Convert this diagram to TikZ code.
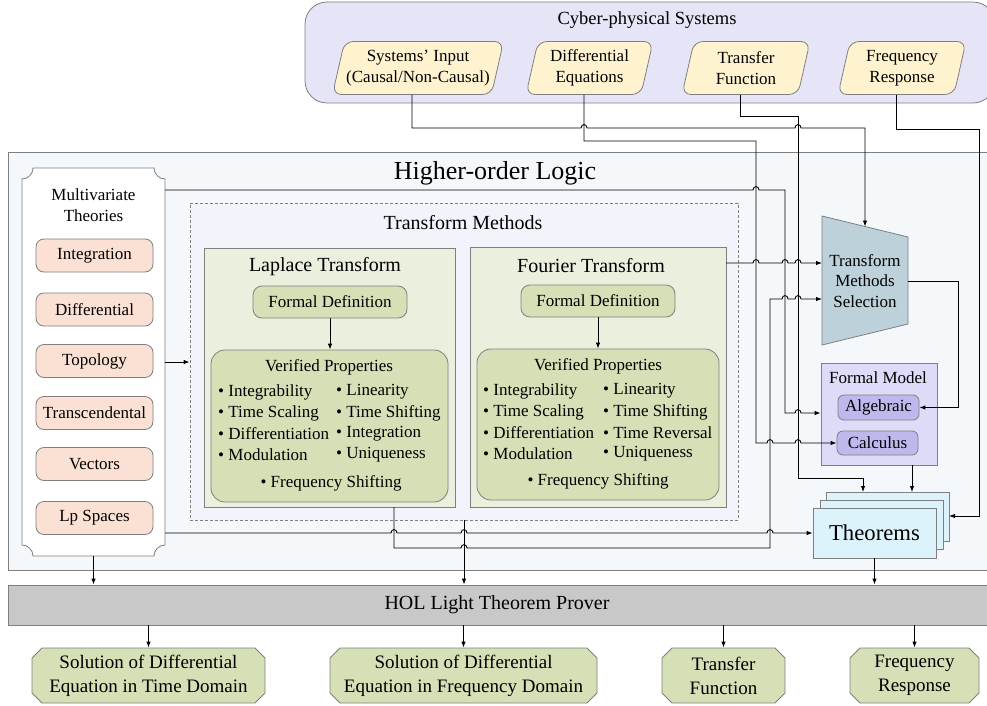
\documentclass[tikz,border=0pt]{standalone}
\usepackage{fontspec}
\setmainfont{Liberation Serif}
\usetikzlibrary{arrows.meta,calc,shapes.misc}
\definecolor{bordc}{HTML}{7F7F7F}
\definecolor{cpsfill}{HTML}{E6E5F8}
\definecolor{inputfill}{HTML}{FFF3CF}
\definecolor{holfill}{HTML}{F4F8FA}
\definecolor{peach}{HTML}{FBE1D3}
\definecolor{tmfill}{HTML}{F3F3FC}
\definecolor{oliveA}{HTML}{EBEFDD}
\definecolor{oliveB}{HTML}{D5E0B6}
\definecolor{tmsfill}{HTML}{BCD1DA}
\definecolor{fmfill}{HTML}{DDDBF8}
\definecolor{algfill}{HTML}{BDB9EC}
\definecolor{thmfill}{HTML}{DCF3FC}
\definecolor{barfill}{HTML}{C8C8C8}
\newcommand\hop[2]{-- (#1-3,#2) .. controls (#1-3,#2-4.5) and (#1+3,#2-4.5) .. (#1+3,#2)}
\newcommand\parabox[5]{%
  \path[draw=bordc, line width=0.8pt, fill=inputfill, rounded corners=9pt]
    (#2-#4/2,#3+26.5) -- (#2-#4/2+12,#3-26.5) -- (#2+#4/2,#3-26.5) -- (#2+#4/2-12,#3+26.5) -- cycle;
  \node[minimum width=#4pt, minimum height=53pt, align=center] (#1) at (#2,#3) {#5};}
\begin{document}
\begin{tikzpicture}[x=1pt,y=-1pt,
  font=\fontsize{17}{20.5}\selectfont,
  every node/.style={inner sep=0pt},
  bx/.style={draw=bordc, line width=0.8pt},
  sub/.style={bx, fill=peach, rounded corners=8pt, minimum width=117pt, minimum height=33pt},
  outb/.style={bx, fill=oliveB, chamfered rectangle, chamfered rectangle xsep=5pt, chamfered rectangle ysep=5pt,
    minimum height=55pt, align=center, font=\fontsize{19}{24}\selectfont},
  item/.style={anchor=west},
  conn/.style={line width=0.9pt, draw=black},
  arr/.style={conn, -{Latex[length=6pt,width=4.5pt]}},
]
\useasboundingbox (0,0) rectangle (987,706);

% ---------- Cyber-physical systems ----------
\node[bx, fill=cpsfill, rounded corners=22pt, minimum width=690pt, minimum height=101pt] (cps) at (650,52.5) {};
\node (cpst) at (647,20) {\fontsize{18.5}{22}\selectfont Cyber-physical Systems};
\parabox{sin}{418}{68}{171}{Systems’ Input\\(Causal/Non-Causal)}
\parabox{deq}{589.5}{68}{127}{Differential\\Equations}
\parabox{tf}{746}{68}{128}{Transfer\\Function}
\parabox{fr}{902}{68}{128}{Frequency\\Response}

% ---------- Higher-order logic ----------
\node[bx, fill=holfill, minimum width=992pt, minimum height=418pt] (hol) at (504,361) {};
\node (holt) at (495,173) {\fontsize{26}{30}\selectfont Higher-order Logic};

% Multivariate theories
\path[draw=bordc, line width=0.8pt, fill=white]
  (33,168) -- (154,168) .. controls (154,174) and (159,179) .. (165,179)
  -- (165,545) .. controls (159,545) and (154,550) .. (154,556)
  -- (33,556) .. controls (33,550) and (28,545) .. (22,545)
  -- (22,179) .. controls (28,179) and (33,174) .. cycle;
\node[minimum width=143pt, minimum height=388pt] (mv) at (93.5,362) {};
\node[align=center] (mvt) at (93.5,205) {Multivariate\\Theories};
\node[sub] (s1) at (94.5,255.5) {Integration};
\node[sub] (s2) at (94.5,309.5) {Differential};
\node[sub] (s3) at (94.5,361) {Topology};
\node[sub] (s4) at (94.5,413) {Transcendental};
\node[sub] (s5) at (94.5,464) {Vectors};
\node[sub] (s6) at (94.5,518) {Lp Spaces};

% Transform methods
\node[bx, dash pattern=on 3pt off 2pt, fill=tmfill, minimum width=548pt, minimum height=317pt] (tm) at (464,361.5) {};
\node (tmt) at (463,223) {\fontsize{20}{24}\selectfont Transform Methods};

% Laplace
\node[bx, fill=oliveA, minimum width=251pt, minimum height=259pt] (lt) at (329.5,377.5) {};
\node (ltt) at (325,267) {\fontsize{20}{24}\selectfont Laplace Transform};
\node[bx, fill=oliveB, rounded corners=9pt, minimum width=154pt, minimum height=32pt] (lfd) at (330,302) {Formal Definition};
\node[bx, fill=oliveB, rounded corners=14pt, minimum width=237pt, minimum height=152pt] (lvp) at (329.5,426) {};
\node (lvpt) at (329,367) {Verified Properties};
\node[item] (la1) at (218,392) {\textbullet\ Integrability};
\node[item] (la2) at (218,413) {\textbullet\ Time Scaling};
\node[item] (la3) at (218,434) {\textbullet\ Differentiation};
\node[item] (la4) at (218,455) {\textbullet\ Modulation};
\node[item] (lb1) at (336,392) {\textbullet\ Linearity};
\node[item] (lb2) at (336,413) {\textbullet\ Time Shifting};
\node[item] (lb3) at (336,434) {\textbullet\ Integration};
\node[item] (lb4) at (336,455) {\textbullet\ Uniqueness};
\node (lfs) at (331,483) {\textbullet\ Frequency Shifting};

% Fourier
\node[bx, fill=oliveA, minimum width=256pt, minimum height=260pt] (ft) at (598,377) {};
\node (ftt) at (591,266) {\fontsize{20}{24}\selectfont Fourier Transform};
\node[bx, fill=oliveB, rounded corners=9pt, minimum width=154pt, minimum height=32pt] (ffd) at (598,301) {Formal Definition};
\node[bx, fill=oliveB, rounded corners=14pt, minimum width=242pt, minimum height=151pt] (fvp) at (598,424.5) {};
\node (fvpt) at (598,366) {Verified Properties};
\node[item] (fa1) at (483,391) {\textbullet\ Integrability};
\node[item] (fa2) at (483,412) {\textbullet\ Time Scaling};
\node[item] (fa3) at (483,433) {\textbullet\ Differentiation};
\node[item] (fa4) at (483,454) {\textbullet\ Modulation};
\node[item] (fb1) at (603,391) {\textbullet\ Linearity};
\node[item] (fb2) at (603,412) {\textbullet\ Time Shifting};
\node[item] (fb3) at (603,433) {\textbullet\ Time Reversal};
\node[item] (fb4) at (603,454) {\textbullet\ Uniqueness};
\node (ffs) at (598,481) {\textbullet\ Frequency Shifting};

\draw[arr] (lfd.south) -- (lfd.south |- lvp.north);
\draw[arr] (ffd.south) -- (ffd.south |- fvp.north);

% Transform methods selection
\path[draw=bordc, line width=0.8pt, fill=tmsfill] (822,216) -- (908,237) -- (908,324) -- (822,345) -- cycle;
\node[align=center] (tms) at (865,281) {Transform\\Methods\\Selection};
\coordinate (tmstop) at (865,226.5);

% Formal model
\node[bx, fill=fmfill, minimum width=116pt, minimum height=102pt] (fm) at (879,414) {};
\node (fmt) at (878,378) {Formal Model};
\node[bx, fill=algfill, rounded corners=6pt, minimum width=81pt, minimum height=25pt] (alg) at (878.5,407.5) {Algebraic};
\node[bx, fill=algfill, rounded corners=6pt, minimum width=81pt, minimum height=24pt] (calc) at (877.5,443) {Calculus};

% Theorems
\node[bx, fill=thmfill, minimum width=123pt, minimum height=49pt] (thmb) at (887.5,516.5) {};
\node[bx, fill=thmfill, minimum width=123pt, minimum height=49pt] (thmm) at (881.5,524.5) {};
\node[bx, fill=thmfill, minimum width=123pt, minimum height=50pt] (thm) at (874.5,533) {\fontsize{22.7}{26}\selectfont Theorems};

% HOL Light
\node[bx, fill=barfill, minimum width=992pt, minimum height=40pt] (prover) at (504,605) {};
\node (provert) at (497,605) {\fontsize{20}{24}\selectfont HOL Light Theorem Prover};

% outputs
\node[outb, minimum width=233pt] (out1) at (148.5,675.5) {Solution of Differential\\Equation in Time Domain};
\node[outb, minimum width=267pt] (out2) at (463.5,675.5) {Solution of Differential\\Equation in Frequency Domain};
\node[outb, minimum width=123pt] (out3) at (723.5,675.5) {Transfer\\Function};
\node[outb, minimum width=129pt] (out4) at (914.5,675.5) {Frequency\\Response};

% ---------- connectors ----------
\draw[arr] (mv.east) -- (tm.west |- mv.east);
\draw[arr] (165,190) \hop{756}{190} -- (785,190) -- (785,413) \hop{798}{413} -- (fm.west |- 0,413);
\draw[arr] (165,533) \hop{394}{533} \hop{464}{533} \hop{770}{533} -- (thm.west);
\draw[arr] (394,507) -- (394,548) \hop{464}{548} -- (770,548) -- (770,299) \hop{785}{299} \hop{798}{299} -- (822,299);
\draw[arr] (726,263) \hop{756}{263} \hop{785}{263} \hop{798}{263} -- (822,263);
\draw[arr] ($(deq.south)+(-5.5,0)$) -- (584,141) -- (756,141) -- (756,443) \hop{770}{443} \hop{798}{443} -- (calc.west);
\draw[arr] ($(sin.south)+(-6,0)$) -- (412,128) \hop{584}{128} \hop{798}{128} -- (865,128) -- (tmstop);
\draw[arr] ($(tf.south)+(-6,0)$) -- (740,116) -- (798,116) -- (798,478) -- (863,478) -- (863,492);
\draw[arr] ($(fr.south)+(-6,0)$) -- (896,129) -- (979,129) -- (979,516) -- (949,516);
\draw[arr] (908,281) -- (958,281) -- (958,407.5) -- (alg.east);
\draw[arr] (912,465) -- (912,492);
\draw[arr] (thm.south) -- (thm.south |- prover.north);
\draw[arr] (mv.south) -- (mv.south |- prover.north);
\draw[arr] (tm.south) -- (tm.south |- prover.north);
\draw[arr] (prover.south -| out1.north) -- (out1.north);
\draw[arr] (prover.south -| out2.north) -- (out2.north);
\draw[arr] (prover.south -| out3.north) -- (out3.north);
\draw[arr] (prover.south -| out4.north) -- (out4.north);
\end{tikzpicture}
\end{document}
